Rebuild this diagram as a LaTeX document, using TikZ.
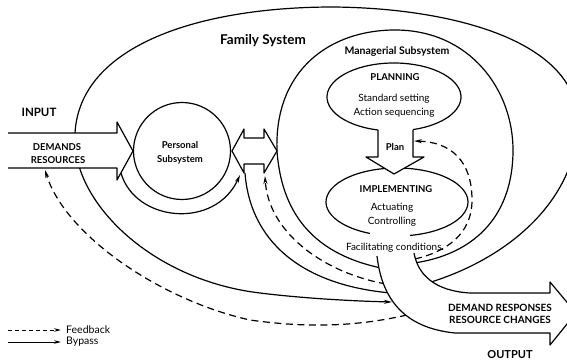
\documentclass[tikz,border=0pt]{standalone}
\usepackage{fontspec}
\setmainfont{Lato}
\usetikzlibrary{arrows.meta}
\begin{document}
\begin{tikzpicture}[x=1pt,y=-1pt,
  ln/.style={line width=1.2pt, line join=round},
  fb/.style={ln, dash pattern=on 7pt off 4.5pt},
  tipped/.style={-{Stealth[length=8pt,width=4pt]}},
  txt/.style={inner sep=0pt, font=\fontsize{10}{12}\selectfont},
  btxt/.style={inner sep=0pt, font=\fontsize{9.5}{11}\selectfont\bfseries},
]
\useasboundingbox (0,0) rectangle (567,363);
\clip (0,0) rectangle (567,363);

% Family system boundary (ends as a bypass arrow into the output)
\coordinate (famstart) at (428,283);
\coordinate (famend) at (392,302);
\draw[ln, tipped] (famstart) .. controls (510,258) and (575,200) .. (578,125)
  .. controls (580,40) and (450,8) .. (333,7)
  .. controls (200,7) and (80,45) .. (75,133)
  .. controls (70,200) and (150,280) .. (260,293)
  .. controls (300,298) and (350,301) .. (famend);

% Managerial subsystem boundary
\coordinate (manstart) at (381,268);
\coordinate (manend) at (414,263);
\draw[ln] (manstart) .. controls (320,255) and (282,220) .. (277,151)
  .. controls (274,70) and (330,30) .. (395,30)
  .. controls (470,30) and (513,90) .. (513,150)
  .. controls (513,220) and (470,255) .. (manend);

% Planning ellipse (open at bottom)
\coordinate (planc) at (394,97);
\draw[ln] (planc) ++(103.8:67 and 34) arc[start angle=103.8, end angle=433.5, x radius=67, y radius=34];

% Implementing ellipse (open at bottom)
\coordinate (implc) at (397,202);
\draw[ln] (implc) ++(112.4:71 and 34) arc[start angle=112.4, end angle=439.5, x radius=71, y radius=34];

% Plan arrow
\path[ln, fill=white, draw] (378,130) -- (378,157) -- (366,157) -- (394,174) -- (424,157) -- (413,157) -- (413,130);

% Personal subsystem
\node[circle, draw, ln, minimum size=97pt, inner sep=0pt] (personal) at (182,151) {};

% Input arrow
\path[ln, fill=white, draw] (8,133) -- (117,133) -- (117,122) -- (133,151) -- (117,180) -- (117,168) -- (8,168);

% Double arrow between subsystems
\path[ln, fill=white, draw] (232,151) -- (244,129) -- (244,138) -- (264,138) -- (264,129) -- (277,151)
  -- (264,173) -- (264,164) -- (244,164) -- (244,173) -- cycle;

% Bypass around personal subsystem
\coordinate (bpA) at (121,173);
\coordinate (bpB) at (240,175);
\draw[ln, tipped] (bpA) .. controls (135,222) and (215,230) .. (bpB);

% Line from interaction to output
\coordinate (l1A) at (245,173);
\coordinate (l1B) at (391,293);
\draw[ln] (l1A) .. controls (250,240) and (300,285) .. (l1B);

% Feedback to the interaction arrow
\coordinate (fdA) at (386,284);
\coordinate (fdB) at (265,176);
\draw[fb, tipped] (fdA) .. controls (320,272) and (268,230) .. (fdB);

% Feedback to input
\coordinate (fiA) at (407,315);
\coordinate (fiB) at (45,170);
\draw[fb, tipped] (fiA) .. controls (350,328) and (300,327) .. (250,320)
  .. controls (160,300) and (65,235) .. (fiB);

% Feedback to plan
\coordinate (fpA) at (415,259);
\coordinate (fpB) at (414,141);
\draw[fb, tipped] (fpA) .. controls (445,252) and (472,235) .. (472,200)
  .. controls (472,160) and (450,142) .. (fpB);

% Facilitating conditions / output arrow
\path[ln, fill=white, draw] (377,256) .. controls (382,300) and (405,328) .. (455,333)
  -- (550,333) -- (550,345) -- (576,313) -- (550,282) -- (550,293) -- (470,293)
  .. controls (435,291) and (418,275) .. (414,253);

% Texts
\node[inner sep=0pt, font=\fontsize{13.5}{15}\selectfont\bfseries] (famlbl) at (263,41) {Family System};
\node[inner sep=0pt, font=\fontsize{10.5}{12}\selectfont\bfseries] (manlbl) at (397,52) {Managerial Subsystem};
\node[btxt] (planlbl) at (395,77) {PLANNING};
\node[txt] (std) at (394,99) {Standard setting};
\node[txt] (act) at (394,113) {Action sequencing};
\node[btxt] (planw) at (395,147) {Plan};
\node[btxt] (impl) at (396,189) {IMPLEMENTING};
\node[txt] (actu) at (392,208) {Actuating};
\node[txt] (ctrl) at (392,222) {Controlling};
\node[txt] (facil) at (395,248) {Facilitating conditions.};
\node[btxt] (pers1) at (180,145) {Personal};
\node[btxt] (pers2) at (180,160) {Subsystem};
\node[btxt] (dem) at (57,147) {DEMANDS};
\node[btxt] (res) at (58,160) {RESOURCES};
\node[inner sep=0pt, font=\fontsize{11.5}{13}\selectfont\bfseries] (inp) at (39,112) {INPUT};
\node[inner sep=0pt, font=\fontsize{10}{12}\selectfont\bfseries] (dr) at (500,308) {DEMAND RESPONSES};
\node[inner sep=0pt, font=\fontsize{10}{12}\selectfont\bfseries] (rc) at (500,320) {RESOURCE CHANGES};
\node[inner sep=0pt, font=\fontsize{11}{13}\selectfont\bfseries] (outp) at (510,355) {OUTPUT};

% Legend
\coordinate (lgfA) at (8,330);
\coordinate (lgfB) at (61,330);
\coordinate (lgbA) at (8,342);
\coordinate (lgbB) at (61,342);
\draw[line width=0.9pt, dash pattern=on 4pt off 3pt, -{Stealth[length=7pt,width=3.5pt]}] (lgfA) -- (lgfB);
\draw[line width=0.9pt, -{Stealth[length=7pt,width=3.5pt]}] (lgbA) -- (lgbB);
\node[inner sep=0pt, anchor=west, font=\fontsize{10.5}{12}\selectfont] (lgft) at (66,330) {Feedback};
\node[inner sep=0pt, anchor=west, font=\fontsize{10.5}{12}\selectfont] (lgbt) at (66,342) {Bypass};
\end{tikzpicture}
\end{document}
